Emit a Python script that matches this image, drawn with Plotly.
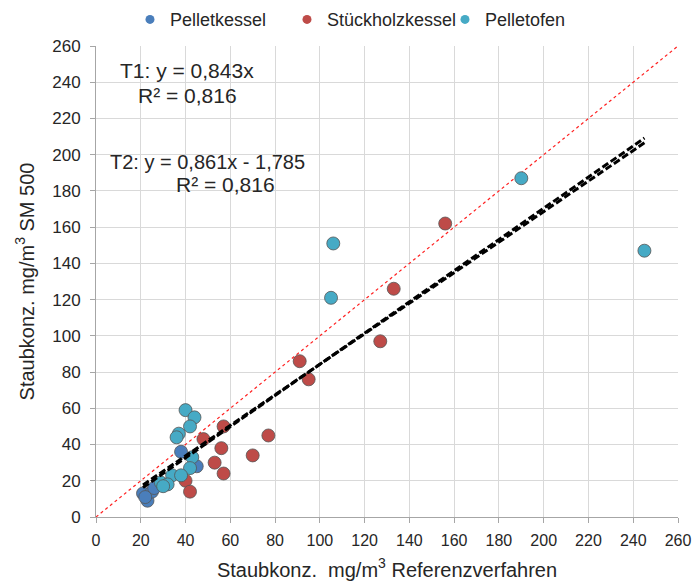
import plotly.graph_objects as go

# Data
pk_x = [21, 23, 25, 26, 22, 38, 45]
pk_y = [13, 9, 14, 16, 11, 36, 28]

sh_x = [40, 42, 48, 57, 56, 53, 57, 70, 77, 91, 95, 127, 133, 156]
sh_y = [20, 14, 43, 50, 38, 30, 24, 34, 45, 86, 76, 97, 126, 162]

po_x = [40, 44, 42, 37, 36, 43, 42, 34, 38, 29, 32, 30, 105, 106, 190, 245]
po_y = [59, 55, 50, 46, 44, 33, 27, 23, 23, 19, 18, 17, 121, 151, 187, 147]

t1_slope, t1_icpt = 0.843, 0.0
t2_slope, t2_icpt = 0.861, -1.785
trend_x = [21, 245]
diag = [0, 260]

ticks = list(range(0, 261, 20))

series_names = ["Pelletkessel", "Stückholzkessel", "Pelletofen"]
colors = {"Pelletkessel": "#4A7EBB", "Stückholzkessel": "#BE4B48", "Pelletofen": "#46AAC5"}
legend_ids = ["legend", "legend2", "legend3"]
legend_x = [130, 287, 445]

fig = go.Figure()

# 1:1 line
fig.add_trace(go.Scatter(x=diag, y=diag, mode="lines",
                         line=dict(color="#FF2020", width=1.2, dash="dot"),
                         showlegend=False, hoverinfo="skip"))

for name, xs, ys in zip(series_names, [pk_x, sh_x, po_x], [pk_y, sh_y, po_y]):
    fig.add_trace(go.Scatter(x=xs, y=ys, mode="markers", name=name, showlegend=False,
                             marker=dict(size=13, color=colors[name],
                                         line=dict(color="#555555", width=0.8))))

# legend-only entries with small dots
for name, lid in zip(series_names, legend_ids):
    fig.add_trace(go.Scatter(x=[None], y=[None], mode="markers", name=name, legend=lid,
                             marker=dict(size=9, color=colors[name])))

# trend lines
for s, c in [(t1_slope, t1_icpt), (t2_slope, t2_icpt)]:
    fig.add_trace(go.Scatter(x=trend_x, y=[s * v + c for v in trend_x], mode="lines",
                             line=dict(color="black", width=3, dash="7px,3px"),
                             showlegend=False, hoverinfo="skip"))

font = "Liberation Sans, Arial, sans-serif"
leg_common = dict(orientation="h", xanchor="left", xref="container",
                  y=0.998, yanchor="top", yref="container",
                  font=dict(size=18), itemwidth=30, bgcolor="rgba(0,0,0,0)")

fig.update_layout(
    width=700, height=588,
    margin=dict(l=96, r=22, t=46, b=71, autoexpand=False),
    paper_bgcolor="white", plot_bgcolor="white",
    font=dict(family=font, color="#262626", size=16),
    legend=dict(x=legend_x[0] / 700, **leg_common),
    legend2=dict(x=legend_x[1] / 700, **leg_common),
    legend3=dict(x=legend_x[2] / 700, **leg_common),
    xaxis=dict(range=[0, 260], tickvals=ticks, showgrid=True, gridcolor="#D9D9D9",
               showline=True, linecolor="#A6A6A6", ticks="outside", ticklen=5,
               tickcolor="#A6A6A6", zeroline=False, mirror=False, automargin=False,
               tickfont=dict(size=16),
               ticklabelstandoff=4,
               title=dict(text="Staubkonz.  mg/m<sup>3</sup> Referenzverfahren",
                          font=dict(size=20), standoff=14)),
    yaxis=dict(range=[0, 260], tickvals=ticks, showgrid=True, gridcolor="#D9D9D9",
               showline=True, linecolor="#A6A6A6", ticks="outside", ticklen=5,
               tickcolor="#A6A6A6", zeroline=False, automargin=False,
               tickfont=dict(size=17),
               ticklabelstandoff=6,
               title=dict(text="Staubkonz. mg/m<sup>3</sup> SM 500",
                          font=dict(size=20), standoff=12)),
    annotations=[
        dict(text="T1: y = 0,843x", x=0.156, y=0.947, xref="paper", yref="paper",
             showarrow=False, font=dict(size=21), xanchor="center", yanchor="middle"),
        dict(text="R² = 0,816", x=0.158, y=0.894, xref="paper", yref="paper",
             showarrow=False, font=dict(size=21), xanchor="center", yanchor="middle"),
        dict(text="T2: y = 0,861x - 1,785", x=0.191, y=0.754, xref="paper", yref="paper",
             showarrow=False, font=dict(size=20), xanchor="center", yanchor="middle"),
        dict(text="R² = 0,816", x=0.223, y=0.706, xref="paper", yref="paper",
             showarrow=False, font=dict(size=21), xanchor="center", yanchor="middle"),
    ],
)

fig.write_html("out.html")
